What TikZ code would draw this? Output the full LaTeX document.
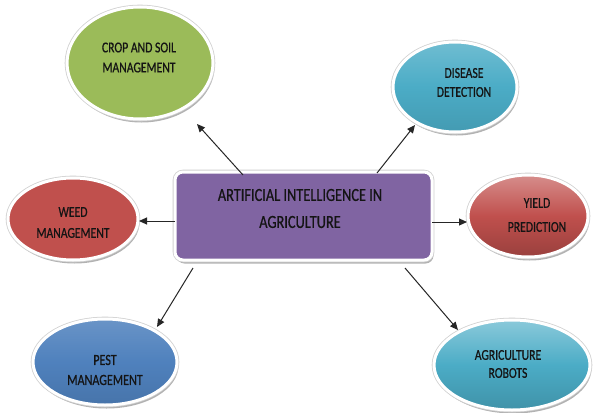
\documentclass[tikz,border=0pt]{standalone}
\usepackage{fontspec}
\setmainfont{Carlito}[FakeStretch=0.78, FakeBold=0.6]
\usetikzlibrary{shapes.geometric,shadows,arrows.meta}
\definecolor{cropgreen}{HTML}{9BBB59}
\definecolor{aqua}{HTML}{4BACC6}
\definecolor{redbrick}{HTML}{C0504D}
\definecolor{steelblue}{HTML}{4F81BD}
\definecolor{mainpurple}{HTML}{8064A2}
\definecolor{txtcol}{HTML}{141414}
\tikzset{
  rim/.style={
    drop shadow={shadow xshift=1.5pt, shadow yshift=-3.5pt, fill=black, opacity=0.3},
    preaction={draw=black!18, line width=4.6pt},
    draw=white, line width=3pt},
  bubble/.style={ellipse, inner sep=0pt, rim},
  mainbox/.style={rectangle, rounded corners=8pt, inner sep=0pt, rim},
  txt/.style={align=center, text=txtcol, inner sep=0pt,
    font=\fontsize{15}{20}\selectfont},
  conn/.style={draw=black!85, line width=1pt,
    -{Triangle[length=8pt,width=7pt]}}
}
\begin{document}
\begin{tikzpicture}[x=1pt,y=-1pt]
\fill[white] (0,0) rectangle (596,412);
\useasboundingbox (0,0) rectangle (596,412);

% central box
\node[mainbox, fill=mainpurple, minimum width=257pt, minimum height=88pt] (main) at (303.5,216) {};
\node[txt, font=\fontsize{18.4}{27}\selectfont] (maintxt) at (300,208.5) {ARTIFICIAL INTELLIGENCE IN\\AGRICULTURE};

% crop and soil
\node[bubble, fill=cropgreen, minimum width=146pt, minimum height=112pt] (crop) at (140,63) {};
\node[txt] (croptxt) at (139,57.5) {CROP AND SOIL\\MANAGEMENT};

% disease
\node[bubble, top color=aqua!80!white, bottom color=aqua!90!black, middle color=aqua, minimum width=124pt, minimum height=90pt] (disease) at (455,87) {};
\node[txt, font=\fontsize{15}{19}\selectfont] (diseasetxt) at (464,82.5) {DISEASE\\DETECTION};

% weed
\node[bubble, fill=redbrick, minimum width=130pt, minimum height=82pt] (weed) at (73,219) {};
\node[txt, font=\fontsize{15}{21}\selectfont] (weedtxt) at (73,222.5) {WEED\\MANAGEMENT};

% yield
\node[bubble, top color=redbrick!65!white, bottom color=redbrick!80!black, middle color=redbrick, minimum width=120pt, minimum height=82pt] (yield) at (528,216) {};
\node[txt, font=\fontsize{15}{24}\selectfont] (yieldtxt) at (537,215) {YIELD\\PREDICTION};

% pest
\node[bubble, top color=steelblue!85!white, bottom color=steelblue!90!black, middle color=steelblue, minimum width=144pt, minimum height=86pt] (pest) at (105,362) {};
\node[txt, font=\fontsize{15.5}{20}\selectfont] (pesttxt) at (105,370) {PEST\\MANAGEMENT};

% robots
\node[bubble, top color=aqua!65!white, bottom color=aqua!85!black, middle color=aqua, minimum width=156pt, minimum height=90pt] (robots) at (512,365) {};
\node[txt, font=\fontsize{15}{18}\selectfont] (robotstxt) at (508,364) {AGRICULTURE\\ROBOTS};

% connectors
\draw[conn] ([xshift=-60.5pt,yshift=41pt]main.center) -- ([xshift=57pt,yshift=-61pt]crop.center);
\draw[conn] ([xshift=73.5pt,yshift=43pt]main.center) -- ([xshift=-40pt,yshift=-38pt]disease.center);
\draw[conn] ([xshift=-128.5pt,yshift=-5pt]main.center) -- ([xshift=66pt,yshift=-2pt]weed.center);
\draw[conn] ([xshift=128.5pt,yshift=-6pt]main.center) -- ([xshift=-61pt,yshift=-6pt]yield.center);
\draw[conn] ([xshift=-110.5pt,yshift=-52pt]main.center) -- ([xshift=52pt,yshift=35pt]pest.center);
\draw[conn] ([xshift=101.5pt,yshift=-52pt]main.center) -- ([xshift=-54pt,yshift=35pt]robots.center);
\end{tikzpicture}
\end{document}
